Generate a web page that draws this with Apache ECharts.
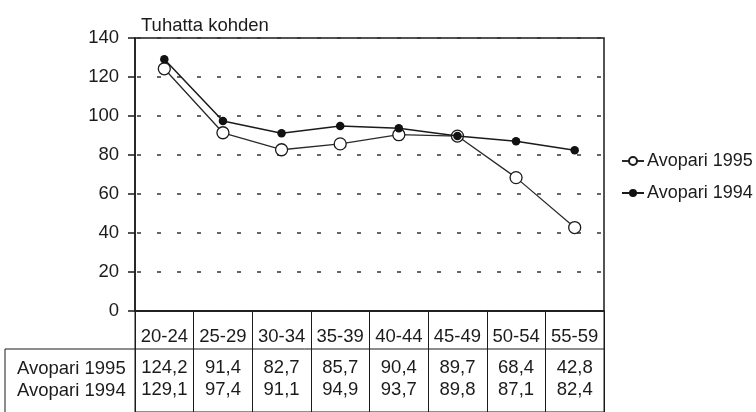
<!DOCTYPE html>
<html>
<head>
<meta charset="utf-8">
<script src="https://cdn.jsdelivr.net/npm/echarts@6/dist/echarts.min.js"></script>
<style>
  html, body { margin: 0; padding: 0; background: #fff; }
  #chart { width: 756px; height: 412px; }
</style>
</head>
<body>
<div id="chart"></div>
<script>
// Age groups and fertility per thousand, cohabiting women
const ageGroups = ['20-24', '25-29', '30-34', '35-39', '40-44', '45-49', '50-54', '55-59'];
const avopari1995 = [124.2, 91.4, 82.7, 85.7, 90.4, 89.7, 68.4, 42.8];
const avopari1994 = [129.1, 97.4, 91.1, 94.9, 93.7, 89.8, 87.1, 82.4];
const seriesNames = ['Avopari 1995', 'Avopari 1994'];
const yMin = 0, yMax = 140, yStep = 20;
const unitLabel = 'Tuhatta kohden';

const FONT = '"Liberation Sans", Arial, sans-serif';
const FS = 18.5;
const INK = '#1b1b1b';
const fmt = v => v.toFixed(1).replace('.', ',');

const chart = echarts.init(document.getElementById('chart'), null, { renderer: 'canvas' });

const txt = { fontFamily: FONT, fontSize: FS, color: INK, lineHeight: 18 };

// Table row laid out as an extra category axis under the plot
function rowAxis(values, margin) {
  return {
    type: 'category', gridIndex: 0, position: 'bottom', offset: 0,
    data: ageGroups, boundaryGap: true,
    axisLine: { show: false }, axisTick: { show: false }, splitLine: { show: false },
    axisLabel: Object.assign({ interval: 0, margin: margin, formatter: (v, i) => fmt(values[i]) }, txt)
  };
}

chart.setOption({
  animation: false,
  backgroundColor: '#fff',
  textStyle: { fontFamily: FONT },
  title: { text: unitLabel, left: 136, top: 11, textStyle: { fontFamily: FONT, fontSize: FS, fontWeight: 'normal', color: INK } },
  legend: {
    orient: 'vertical', left: 621, top: 152, padding: 0, itemWidth: 22, itemHeight: 10, itemGap: 14,
    textStyle: { fontFamily: FONT, fontSize: 18, color: INK, lineHeight: 18, padding: [0, 0, 0, -2] },
    data: seriesNames
  },
  grid: [
    { left: 135, right: 152, top: 38, bottom: 101, show: true, borderColor: INK, borderWidth: 1.5, backgroundColor: 'transparent' },
    { left: 135, right: 152, top: 311, height: 120, show: true, borderColor: INK, borderWidth: 1, backgroundColor: 'transparent' }
  ],
  xAxis: [
    {
      type: 'category', gridIndex: 0, data: ageGroups, boundaryGap: true,
      axisLine: { lineStyle: { color: INK, width: 1.5 } },
      axisTick: { alignWithLabel: true, inside: false, length: 5, lineStyle: { color: INK, width: 1 } },
      axisLabel: Object.assign({ interval: 0, margin: 17 }, txt)
    },
    {
      type: 'category', gridIndex: 1, data: ageGroups, boundaryGap: true, position: 'top',
      axisLine: { show: false }, axisTick: { show: false }, axisLabel: { show: false },
      splitLine: { show: true, lineStyle: { color: INK, width: 1 } }
    },
    rowAxis(avopari1995, 48),
    rowAxis(avopari1994, 70)
  ],
  yAxis: [
    {
      type: 'value', gridIndex: 0, min: yMin, max: yMax, interval: yStep,
      axisLine: { show: true, lineStyle: { color: INK, width: 1.5 } },
      axisTick: { show: true, inside: false, length: 7, lineStyle: { color: INK, width: 1.5 } },
      axisLabel: Object.assign({ margin: 16 }, txt),
      splitLine: { show: true, lineStyle: { color: '#333', width: 1.5, type: [4, 16], dashOffset: 18 } }
    },
    { type: 'value', gridIndex: 1, show: false, splitLine: { show: false } }
  ],
  graphic: [
    { type: 'line', shape: { x1: 5, y1: 349, x2: 604, y2: 349 }, style: { stroke: INK, lineWidth: 1 } },
    { type: 'line', shape: { x1: 5, y1: 349, x2: 5, y2: 420 }, style: { stroke: INK, lineWidth: 1 } },
    { type: 'text', left: 17, top: 359, style: { text: seriesNames[0], font: FS + 'px ' + FONT, fill: INK } },
    { type: 'text', left: 17, top: 381, style: { text: seriesNames[1], font: FS + 'px ' + FONT, fill: INK } }
  ],
  series: [
    {
      name: seriesNames[0], type: 'line', xAxisIndex: 0, yAxisIndex: 0, data: avopari1995,
      symbol: 'circle', symbolSize: 12, z: 2,
      lineStyle: { color: '#2a2a2a', width: 1.3 },
      itemStyle: { color: '#fff', borderColor: '#1b1b1b', borderWidth: 1.3 }
    },
    {
      name: seriesNames[1], type: 'line', xAxisIndex: 0, yAxisIndex: 0, data: avopari1994,
      symbol: 'circle', symbolSize: 8.5, z: 3,
      lineStyle: { color: '#1b1b1b', width: 1.5 },
      itemStyle: { color: '#111' }
    }
  ]
});
</script>
</body>
</html>
